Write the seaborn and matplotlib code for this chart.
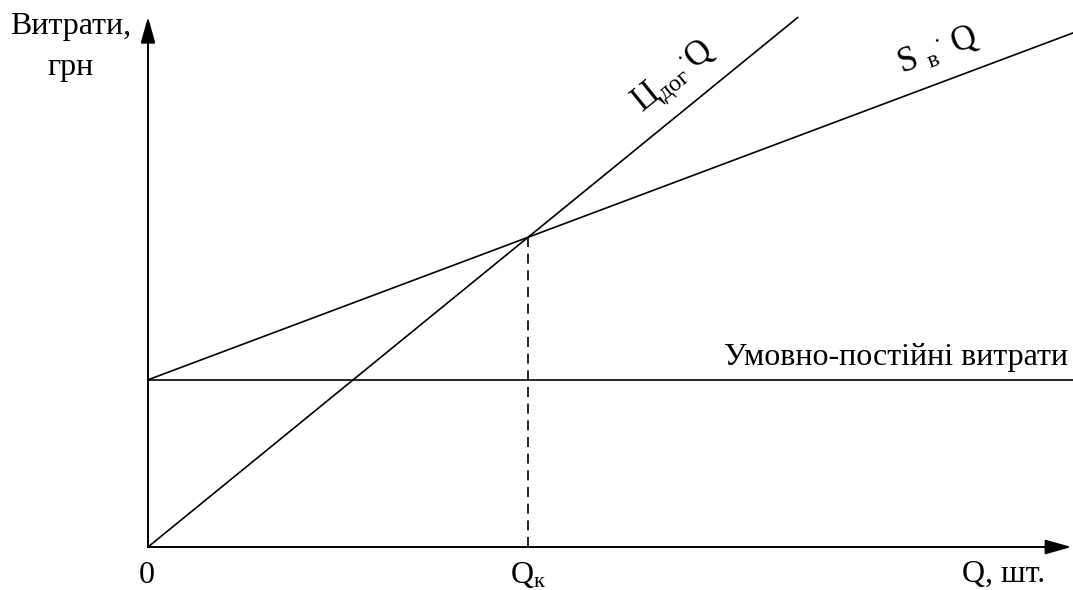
import matplotlib
matplotlib.use("Agg")
import matplotlib.pyplot as plt
import seaborn as sns

# break-even chart values (abstract units)
fixed_cost = 4.4
price = 0.815
var_cost = 0.375
q_k = 10
q_price = [0, 17.1]
q_var = [0, 24.4]
q_fixed = [0, 24.4]
cost_price = [price * q for q in q_price]
cost_var = [fixed_cost + var_cost * q for q in q_var]
cost_fixed = [fixed_cost, fixed_cost]
cost_k = price * q_k
x_axis_end = 24.3
y_axis_end = 13.95

sns.set_style("white")
plt.rcParams['font.family'] = ['Liberation Serif', 'DejaVu Serif']
plt.rcParams['text.color'] = 'black'
plt.rcParams['mathtext.fontset'] = 'custom'
plt.rcParams['mathtext.rm'] = 'Liberation Serif'
plt.rcParams['mathtext.it'] = 'Liberation Serif'

fig = plt.figure(figsize=(10.73, 5.90), dpi=100)
ax = fig.add_axes([0, 0, 1, 1])
ax.set_xlim(-148 / 38, (1073 - 148) / 38)
ax.set_ylim(-(590 - 547) / 38, 547 / 38)
ax.axis('off')

lw = 1.2
sns.lineplot(x=q_price, y=cost_price, color='black', lw=lw, ax=ax)
sns.lineplot(x=q_var, y=cost_var, color='black', lw=lw, ax=ax)
sns.lineplot(x=q_fixed, y=cost_fixed, color='black', lw=lw, ax=ax)
ax.plot([q_k, q_k], [0, cost_k], color='black', lw=lw, dashes=(6, 4))

# axes with arrows
arrow = dict(arrowstyle='-|>,head_length=1.6,head_width=0.45', mutation_scale=10,
             color='black', lw=1.4, shrinkA=0, shrinkB=0)
ax.annotate('', xy=(x_axis_end, 0), xytext=(0, 0), arrowprops=arrow)
ax.annotate('', xy=(0, y_axis_end), xytext=(0, 0), arrowprops=arrow)

fs = 23
ax.text(-2.03, 13.7, 'Витрати,', fontsize=fs, ha='center', va='center')
ax.text(-2.03, 12.62, 'грн', fontsize=fs, ha='center', va='center')
ax.text(24.21, 4.79, 'Умовно-постійні витрати', fontsize=fs, ha='right', va='baseline')
ax.text(-0.03, -0.74, '0', fontsize=fs, ha='center', va='center')
ax.text(q_k, -0.74, r'$\mathrm{Q_{к}}$', fontsize=fs, ha='center', va='center')
ax.text(23.6, -0.92, 'Q, шт.', fontsize=fs, ha='right', va='baseline')
ax.text(13.87, 12.34, r'$\mathrm{Ц_{дог}{}^{\cdot}Q}$', fontsize=25, ha='center', va='center',
        rotation=39, rotation_mode='anchor')
ax.text(20.79, 13.08, r'$\mathrm{S\ _{в}{}^{\cdot}\ Q}$', fontsize=25, ha='center', va='center',
        rotation=20.5, rotation_mode='anchor')

fig.savefig('out.png', dpi=100)
